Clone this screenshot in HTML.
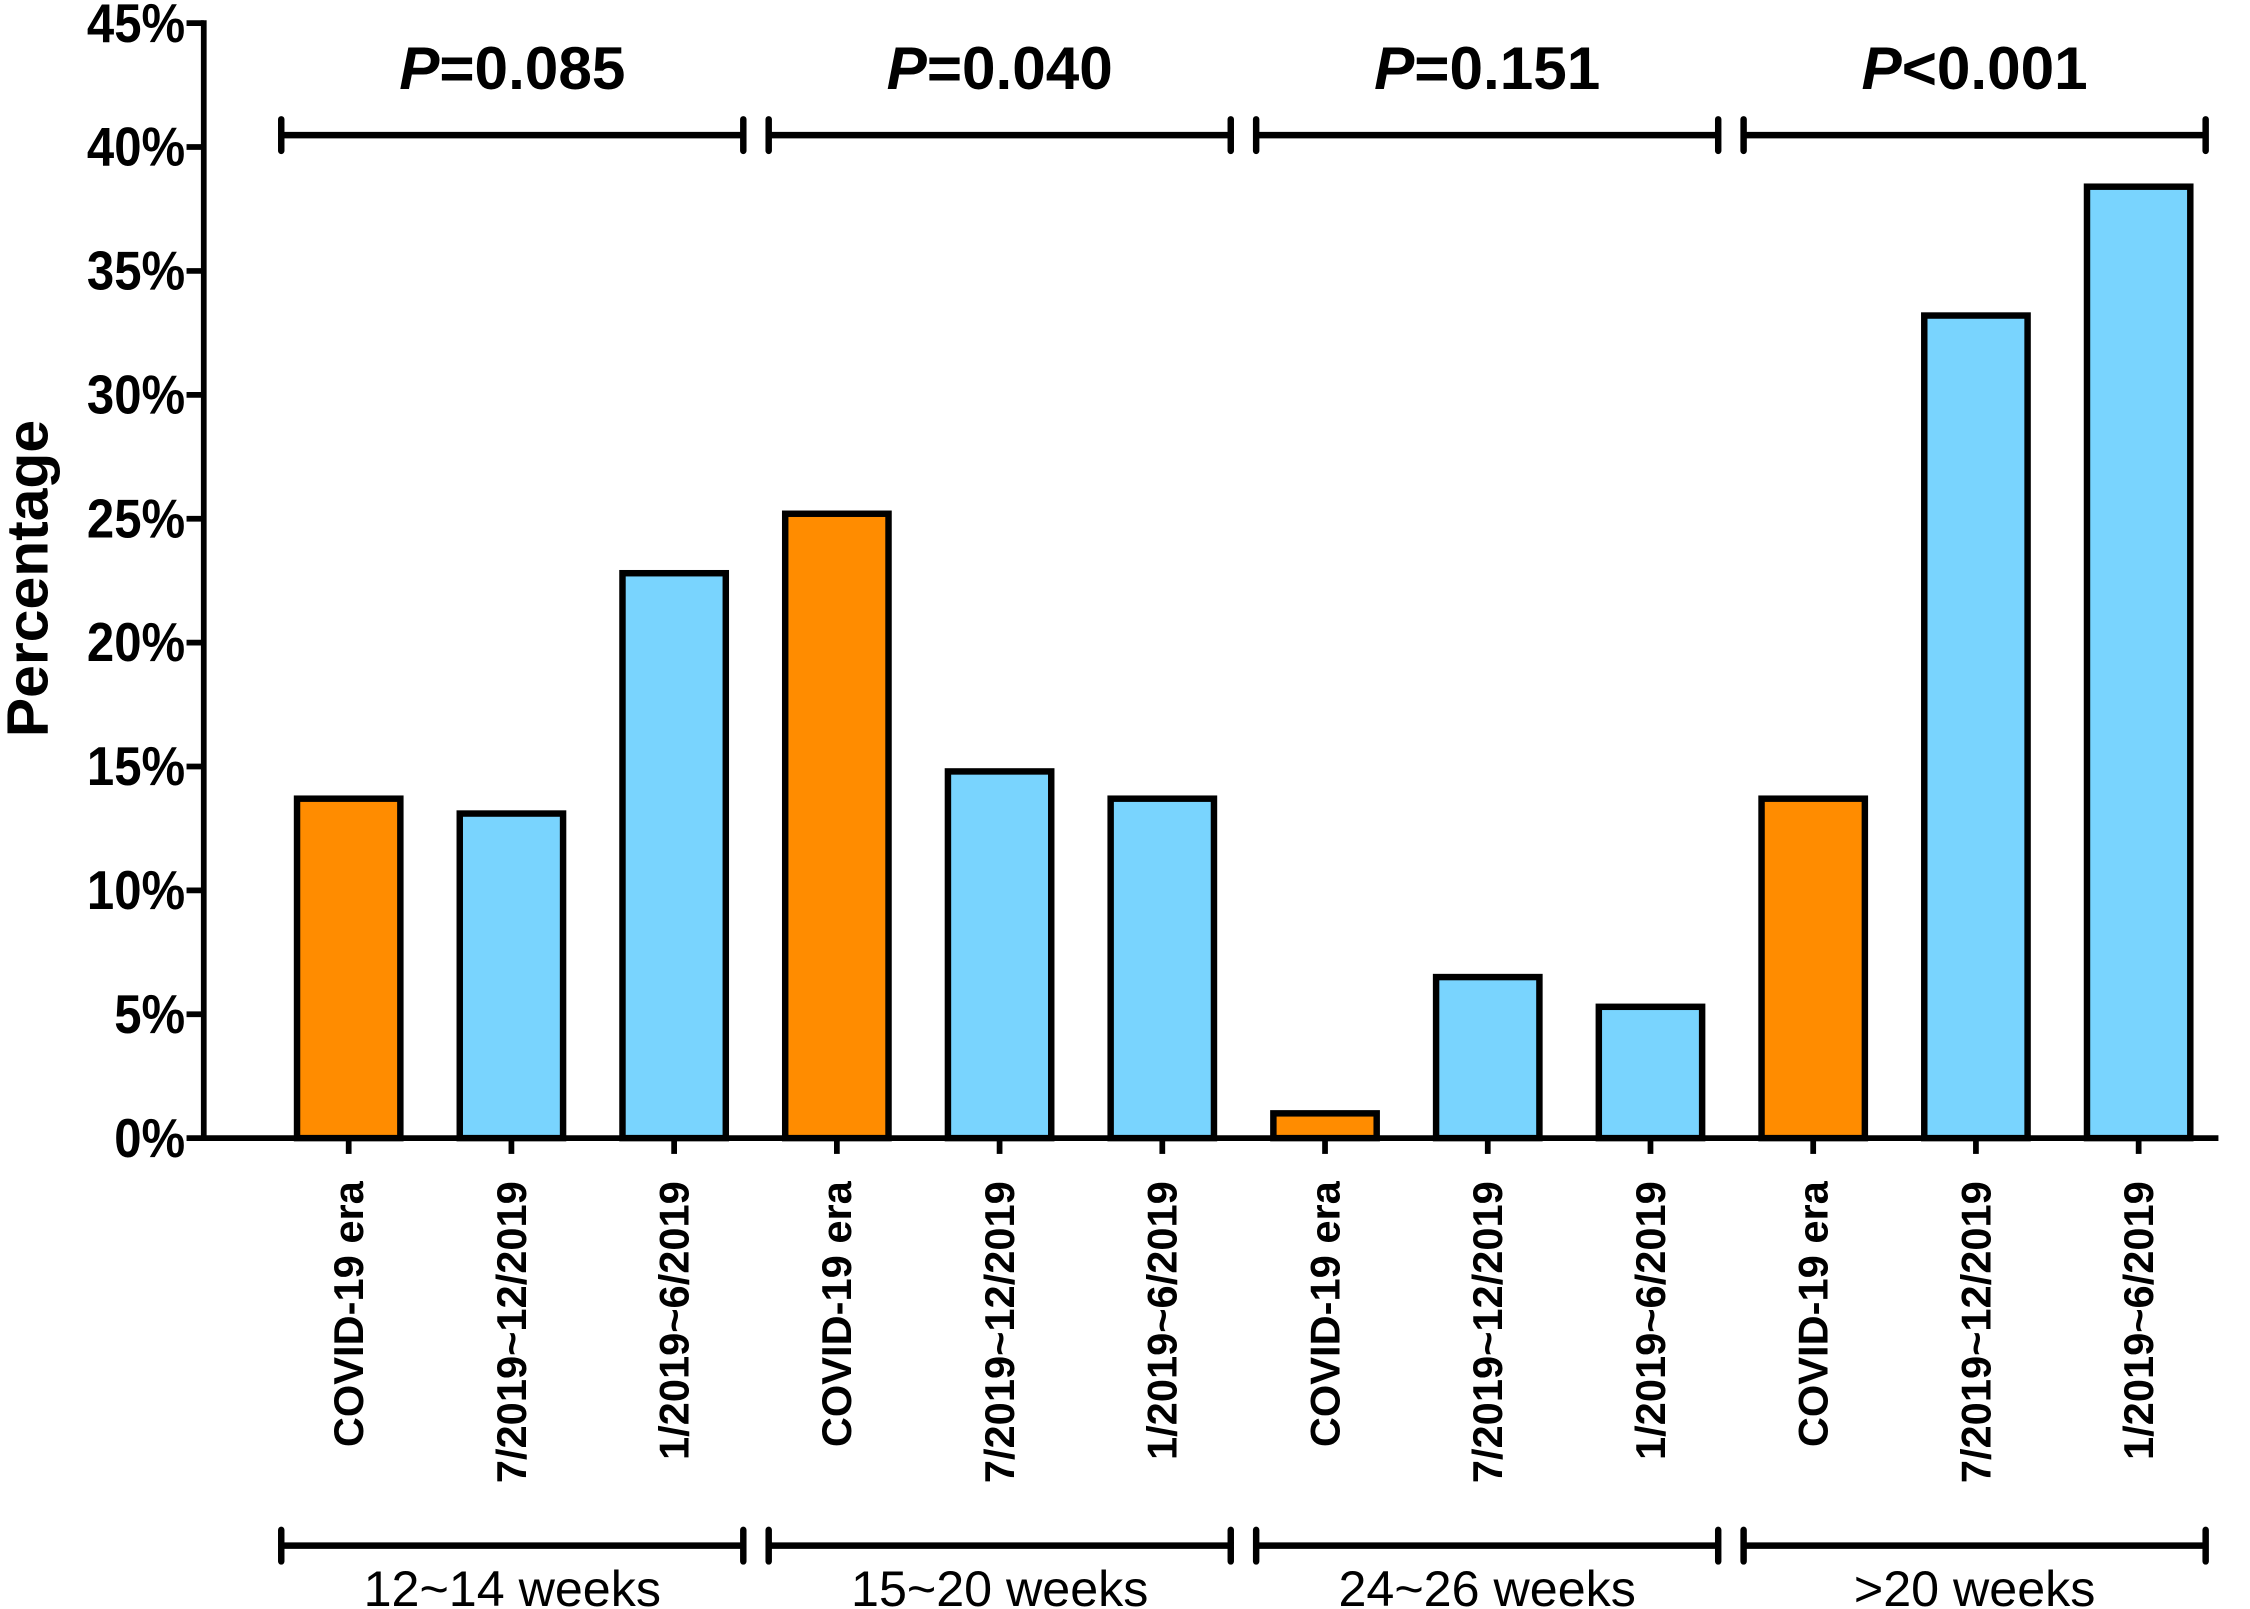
<!DOCTYPE html>
<html><head><meta charset="utf-8"><style>
html,body{margin:0;padding:0;background:#fff;}
svg{display:block;}
.n{font-family:"Liberation Sans Narrow","Liberation Sans",sans-serif;}
.s{font-family:"Liberation Sans",sans-serif;}
</style></head><body>
<svg id="chart" width="2250" height="1609" viewBox="0 0 1568 1121" xmlns="http://www.w3.org/2000/svg">
<g id="g"></g>
</svg>
<script>
const categories=["COVID-19 era","7/2019~12/2019","1/2019~6/2019","COVID-19 era","7/2019~12/2019","1/2019~6/2019","COVID-19 era","7/2019~12/2019","1/2019~6/2019","COVID-19 era","7/2019~12/2019","1/2019~6/2019"];
const values=[13.7,13.1,22.8,25.2,14.8,13.7,1.0,6.5,5.3,13.7,33.2,38.4];
const isCovid=[1,0,0,1,0,0,1,0,0,1,0,0];
const groups=["12~14 weeks","15~20 weeks","24~26 weeks",">20 weeks"];
const pvals=["=0.085","=0.040","=0.151","<0.001"];
const yTicks=[0,5,10,15,20,25,30,35,40,45];

const NS="http://www.w3.org/2000/svg";
const g=document.getElementById('g');
const y0=793,y45=16,xAxis=142;
const y=v=>y0-(v/45)*(y0-y45);
const xc=i=>243+113.4*i;
function el(t,a){const e=document.createElementNS(NS,t);for(const k in a)e.setAttribute(k,a[k]);g.appendChild(e);return e;}

values.forEach((v,i)=>{
  const r=el('rect',{x:xc(i)-36,y:y(v),width:72,height:y0-y(v),fill:isCovid[i]?'#FF8C00':'#79D4FE',stroke:'#000','stroke-width':4.5});
  
  
  const tk=el('line',{x1:xc(i),y1:y0,x2:xc(i),y2:y0+11,stroke:'#000','stroke-width':4});
  
  
  const t=el('text',{x:0,y:0,transform:`translate(${xc(i)+10},823) rotate(-90)`,'text-anchor':'end','font-size':29,'font-weight':'bold',class:'s'});
  t.textContent=categories[i];
  
  
});
const ya=el('line',{x1:xAxis,y1:y45-2,x2:xAxis,y2:y0+2,stroke:'#000','stroke-width':4});


const xa=el('line',{x1:xAxis,y1:y0,x2:1546,y2:y0,stroke:'#000','stroke-width':4});


yTicks.forEach(v=>{
  const l=el('line',{x1:xAxis-12,y1:y(v),x2:xAxis,y2:y(v),stroke:'#000','stroke-width':4});
  
  
  const t=el('text',{x:0,y:0,transform:`translate(129,${y(v)+13}) scale(0.9,1)`,'text-anchor':'end','font-size':38,'font-weight':'bold',class:'n'});
  t.textContent=v+'%';
  
  
});
const yt=el('text',{x:0,y:0,transform:'translate(33,403) rotate(-90)','text-anchor':'middle','font-size':41,'font-weight':'bold',class:'s'});
yt.textContent='Percentage';



groups.forEach((name,k)=>{
  const x1=196+339.7*k,x2=x1+322,cx=(x1+x2)/2;
  [[94,'p-bracket'],[1077,'group-bracket']].forEach(([by,nm])=>{
    const b=el('path',{d:`M${x1},${by-11}V${by+11}M${x1},${by}H${x2}M${x2},${by-11}V${by+11}`,stroke:'#000','stroke-width':4.5,fill:'none','stroke-linecap':'round'});
    
    
  });
  const p=el('text',{x:cx,y:62,'text-anchor':'middle','font-size':42,'font-weight':'bold',class:'n'});
  p.innerHTML='<tspan font-style="italic">P</tspan>'+pvals[k];
  
  
  const gl=el('text',{x:cx,y:1119,'text-anchor':'middle','font-size':35,class:'n'});
  gl.textContent=name;
  
  
});
</script>
</body></html>
